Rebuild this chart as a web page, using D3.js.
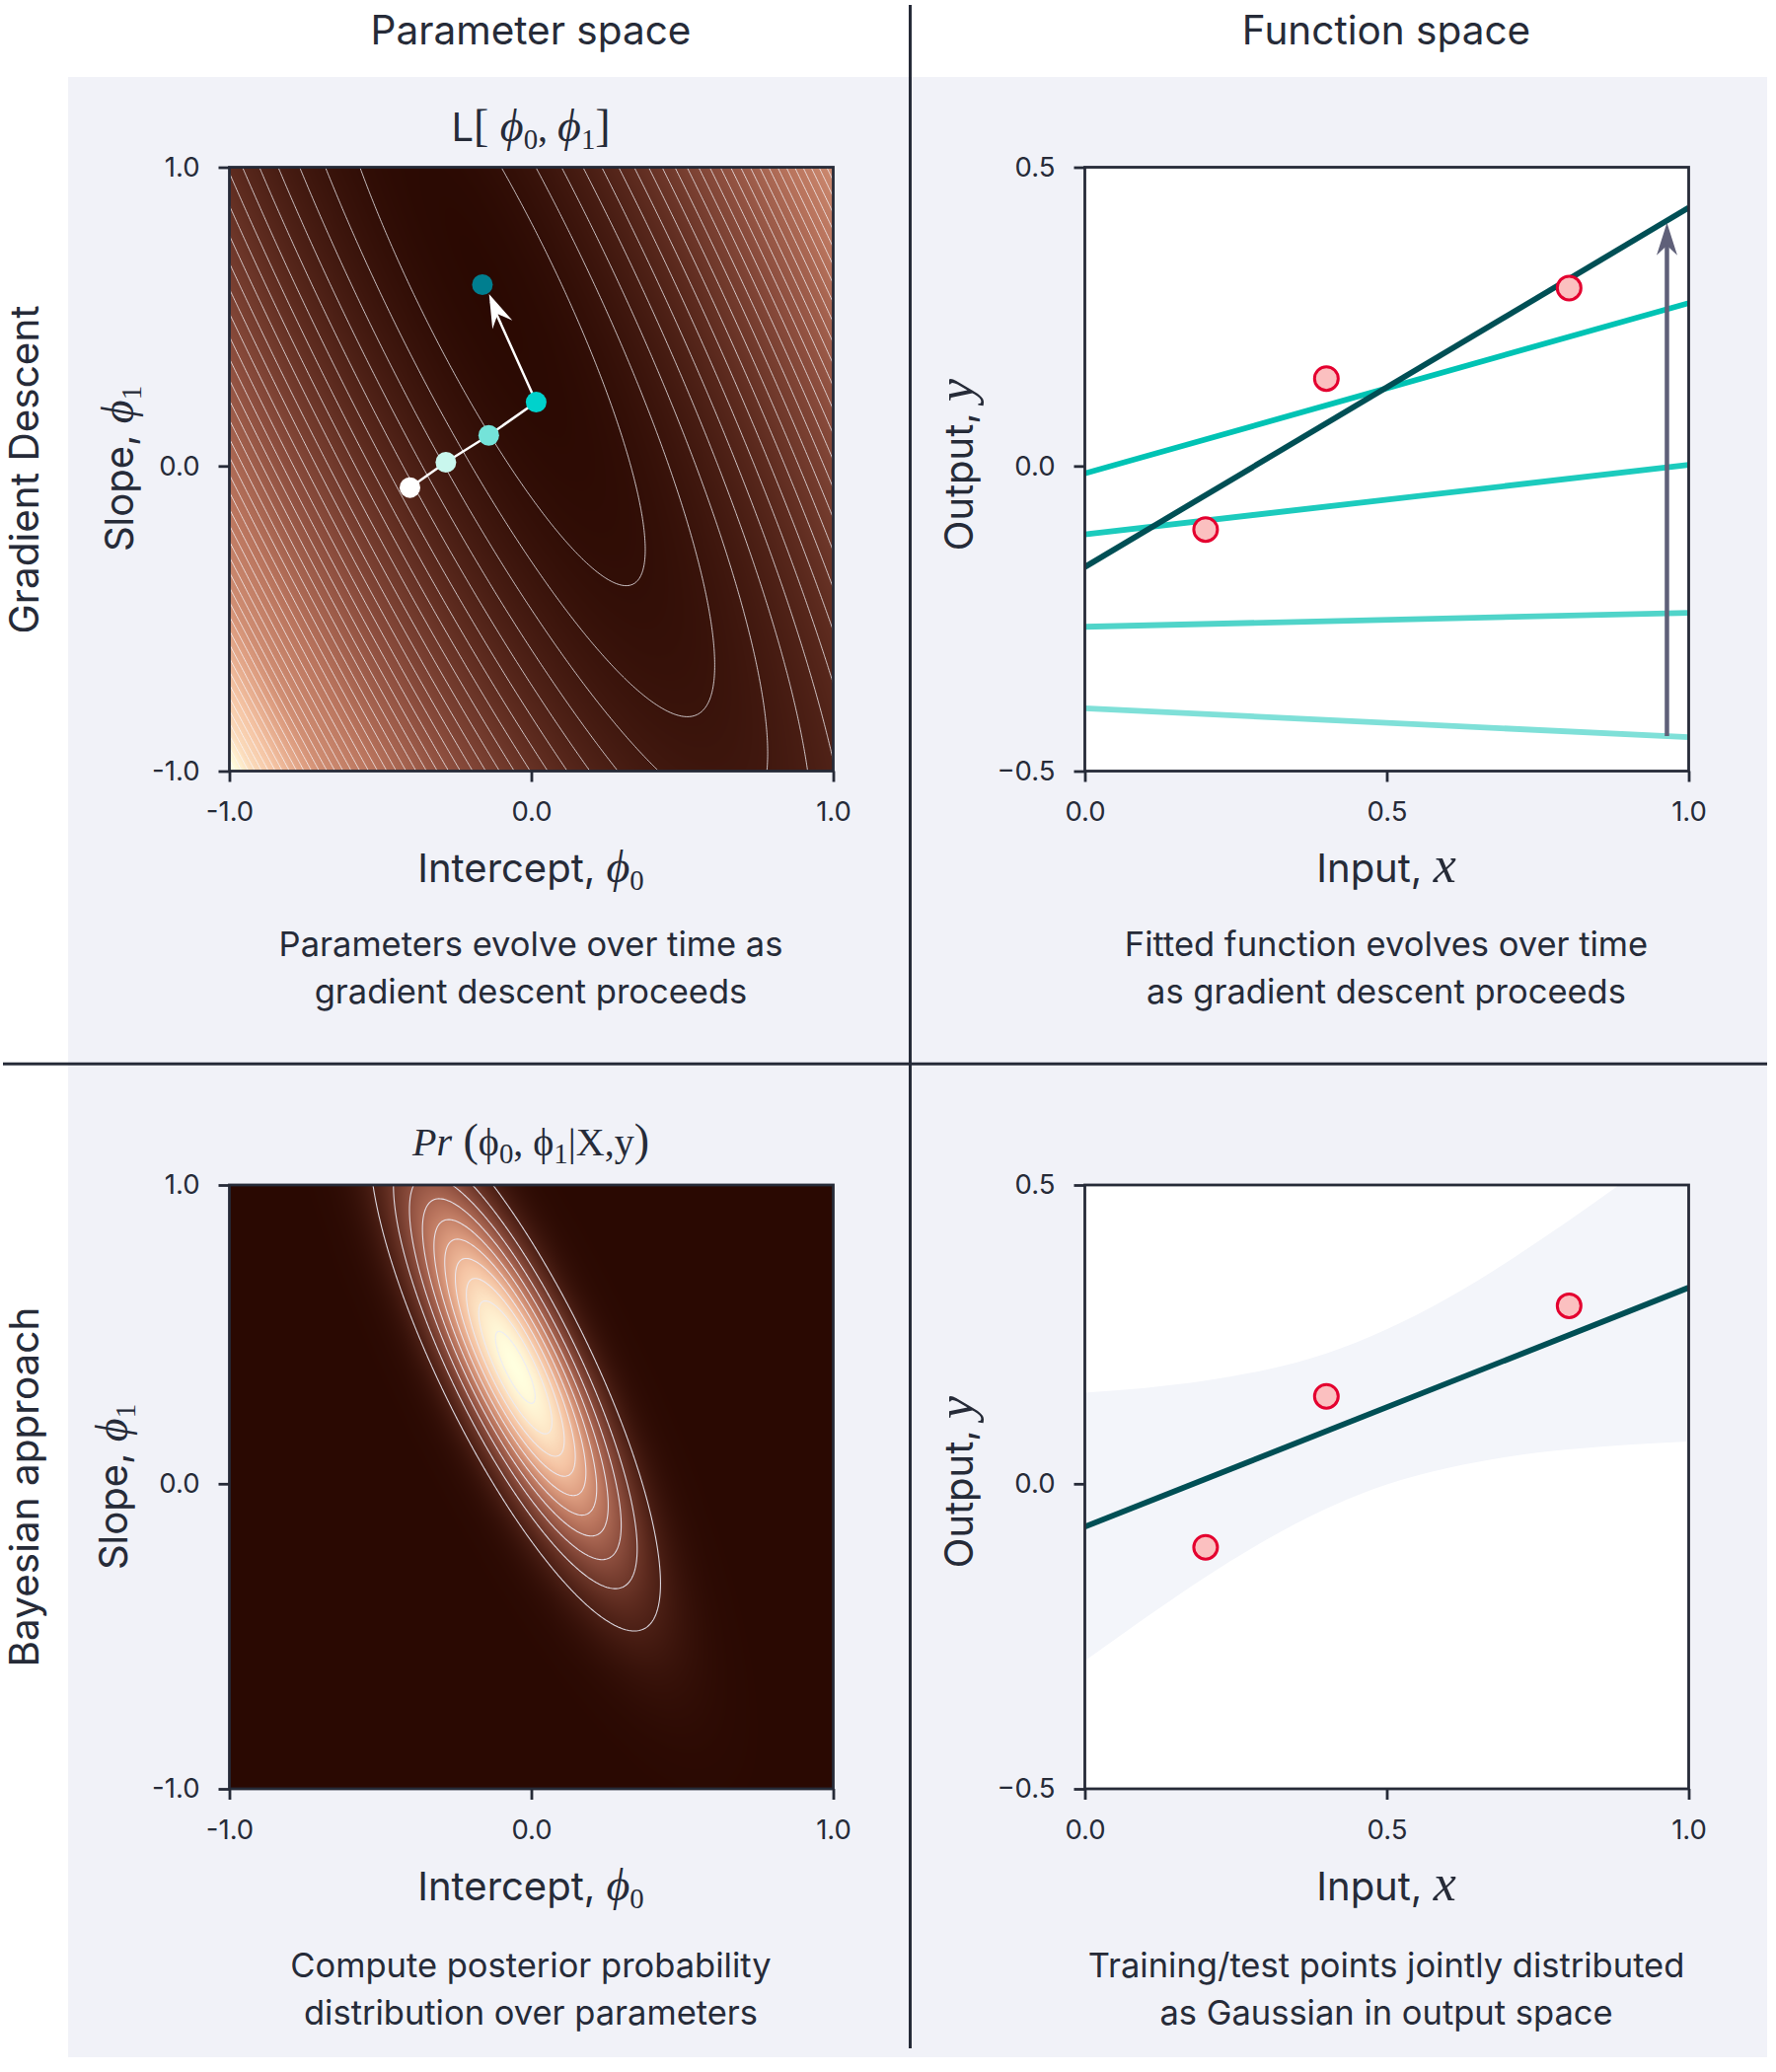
<!DOCTYPE html>
<html><head><meta charset="utf-8">
<script src="https://cdn.jsdelivr.net/npm/d3@7/dist/d3.min.js"></script>
<style>html,body{margin:0;padding:0;background:#fff}svg{display:block}</style>
</head><body><svg id="c" width="1800" height="2100"></svg>
<script>
// ---- values ----
const dataX = [0.2, 0.4, 0.802];
const dataY = [-0.1, 0.15, 0.3];
const stepPhi0 = [-0.402, -0.283, -0.141, 0.016, -0.162];
const stepPhi1 = [-0.061, 0.023, 0.112, 0.222, 0.611];
const stepColors = ['#ffffff', '#c9f7ee', '#74e3d9', '#00d2cc', '#007e8f'];
const lineStart = [-0.396, -0.261, -0.108, -0.007, -0.162];
const lineEnd = [-0.444, -0.238, 0.007, 0.275, 0.433];
const lineColors = ['#7fe0d8', '#50d4c9', '#1ccbbd', '#00c3b4', '#004f55'];
const bandX = [0, .1, .2, .3, .4, .5, .6, .7, .8, .9, 1];
const bandUpper = [.156, .164, .176, .194, .221, .261, .312, .373, .440, .511, .585];
const bandLower = [-.288, -.217, -.149, -.088, -.036, .004, .031, .050, .062, .070, .075];
const postLine = [-0.066, 0.33];
const lossLevelStep = 0.2, lossLevelCount = 40;
const lossCentreShift = 0.017;
const postLevelStep = 0.0957, postLevelCount = 10;
// posterior: mean and inverse covariance of the ellipses
const postMean = [-0.053, 0.396];
const postPrecision = [[62, 28], [28, 18.8]];
const paramTicksX = [-1, 0, 1];
const paramTicksY = [-1, 0.0105, 1];
const paramTickLabels = ['-1.0', '0.0', '1.0'];
const inputTicks = [0, 0.5, 1];
const inputTickLabels = ['0.0', '0.5', '1.0'];
const outputTicks = [-0.5, 0.0052, 0.5];
const outputTickLabels = ['\u22120.5', '0.0', '0.5'];
const cmapStops = ['#2a0902', '#5c2a1e', '#8d4e3e', '#b9745d', '#dd9d80', '#f5c4a4', '#fde4c4', '#ffffdf'];
const lossToneIn = [0, .217, .53, .69, .78, .85, .93, 1];
const lossToneOut = [0, .19, .43, .52, .63, .72, .82, 1];

const INK = '#262b38', PANEL = '#f1f2f8';
const SANS = 'Inter', SERIF = '"Liberation Serif"';
const svg = d3.select('#c');
svg.append('rect').attr('width', 1800).attr('height', 2100).attr('fill', '#fff');
svg.append('rect').attr('x', 69).attr('y', 78).attr('width', 1722).attr('height', 2007).attr('fill', PANEL);
const defs = svg.append('defs');
const cmap = d3.scaleLinear().domain(cmapStops.map((_, i) => i / (cmapStops.length - 1))).range(cmapStops).clamp(true);
const lossTone = d3.scaleLinear().domain(lossToneIn).range(lossToneOut).clamp(true);

// Rich text: segments of text, family, italic, subscript, size factor
function rich(g, x, y, segs, size, rotate) {
  const t = g.append('text').attr('text-anchor', 'middle').attr('fill', INK)
    .attr('font-size', size).attr('font-family', SANS);
  if (rotate) t.attr('transform', `translate(${x},${y}) rotate(-90)`);
  else t.attr('x', x).attr('y', y);
  let shift = 0;
  segs.forEach(s => {
    const sub = s.sub ? size * 0.2 : 0;
    const ts = t.append('tspan').text(s.t).attr('font-family', s.f || SANS)
      .attr('font-style', s.i ? 'italic' : 'normal')
      .attr('font-size', s.sub ? size * 0.72 : size * (s.k || 1));
    if (sub !== shift) { ts.attr('dy', sub - shift); shift = sub; }
  });
  return t;
}

function frame(idx, px, py, xDom, xT, xL, yDom, yT, yL) {
  const x = d3.scaleLinear().domain(xDom).range([px, px + 612]);
  const y = d3.scaleLinear().domain(yDom).range([py + 612, py]);
  const id = 'clip' + idx;
  defs.append('clipPath').attr('id', id).append('rect').attr('x', px).attr('y', py).attr('width', 612).attr('height', 612);
  const g = svg.append('g');
  const plot = g.append('g').attr('clip-path', `url(#${id})`);
  const axB = g.append('g').attr('transform', `translate(0,${py + 612})`)
    .call(d3.axisBottom(x).tickValues(xT).tickFormat((d, i) => xL[i]).tickSize(11).tickPadding(20));
  const axL = g.append('g').attr('transform', `translate(${px},0)`)
    .call(d3.axisLeft(y).tickValues(yT).tickFormat((d, i) => yL[i]).tickSize(11).tickPadding(19));
  [axB, axL].forEach(a => {
    a.select('.domain').remove();
    a.selectAll('line').attr('stroke', INK).attr('stroke-width', 2.8);
    a.selectAll('text').attr('fill', INK).attr('font-family', SANS).attr('font-size', 27.5);
  });
  g.append('rect').attr('x', px).attr('y', py).attr('width', 612).attr('height', 612)
    .attr('fill', 'none').attr('stroke', INK).attr('stroke-width', 2.8);
  return { x, y, plot };
}

function heat(f, field, toColor) {
  const c = document.createElement('canvas'); c.width = 612; c.height = 612;
  const ctx = c.getContext('2d'), im = ctx.createImageData(612, 612);
  for (let j = 0; j < 612; j++) for (let i = 0; i < 612; i++) {
    const p0 = f.x.invert(f.x.range()[0] + i + .5), p1 = f.y.invert(f.y.range()[1] + j + .5);
    const col = d3.rgb(toColor(field(p0, p1))), k = (j * 612 + i) * 4;
    im.data[k] = col.r; im.data[k + 1] = col.g; im.data[k + 2] = col.b; im.data[k + 3] = 255;
  }
  ctx.putImageData(im, 0, 0);
  f.plot.append('image').attr('x', f.x.range()[0]).attr('y', f.y.range()[1]).attr('width', 612).attr('height', 612)
    .attr('href', c.toDataURL());
}

function contourLines(f, field, thresholds, color, width) {
  const n = 400, lo = -1.03, hi = 1.03, d = (hi - lo) / n, vals = new Float64Array(n * n);
  for (let j = 0; j < n; j++) for (let i = 0; i < n; i++) vals[j * n + i] = field(lo + (i + .5) * d, lo + (j + .5) * d);
  const polys = d3.contours().size([n, n]).smooth(true).thresholds(thresholds)(vals);
  const path = d3.geoPath(d3.geoTransform({
    point(a, b) { this.stream.point(f.x(lo + a * d), f.y(lo + b * d)); }
  }));
  f.plot.selectAll(null).data(polys).join('path').attr('d', path)
    .attr('fill', 'none').attr('stroke', color).attr('stroke-width', width);
}

function stealth(g, x1, y1, x2, y2, len, half, notch, color) {
  const a = Math.atan2(y2 - y1, x2 - x1), c = Math.cos(a), s = Math.sin(a);
  const P = (u, v) => [x2 + u * c - v * s, y2 + u * s + v * c];
  g.append('path').attr('d', d3.line()([P(0, 0), P(-len, -half), P(-notch, 0), P(-len, half)]) + 'Z').attr('fill', color);
}

// The two backdrops are fields defined by the three data points / the posterior read above.
const lossField = (p0, p1) => d3.sum(dataX, (x, i) => (p0 - lossCentreShift + p1 * x - dataY[i]) ** 2);
const postField = (p0, p1) => {
  const a = p0 - postMean[0], b = p1 - postMean[1], P = postPrecision;
  return Math.exp(-0.5 * (P[0][0] * a * a + 2 * P[0][1] * a * b + P[1][1] * b * b));
};

// --- Top left
const f1 = frame(1, 232.5, 169.5, [-1, 1], paramTicksX, paramTickLabels, [-1, 1], paramTicksY, paramTickLabels);
heat(f1, lossField, v => cmap(lossTone(v / 8.02)));
contourLines(f1, lossField, d3.range(1, lossLevelCount + 1).map(k => k * lossLevelStep), 'rgba(250,250,255,0.85)', 0.9);
{
  const pts = stepPhi0.map((p, i) => [f1.x(p), f1.y(stepPhi1[i])]);
  const tip = [f1.x(-0.14), f1.y(0.58)];
  f1.plot.append('path').attr('d', d3.line()(pts.slice(0, 4).concat([[tip[0] + 2, tip[1] + 8]]))).attr('fill', 'none').attr('stroke', '#fff').attr('stroke-width', 2.5);
  stealth(f1.plot, pts[3][0], pts[3][1], tip[0], tip[1], 34, 11, 22, '#fff');
  f1.plot.selectAll(null).data(pts).join('circle').attr('cx', d => d[0]).attr('cy', d => d[1]).attr('r', 10.5)
    .attr('fill', (d, i) => stepColors[i]);
}

// --- Top right
const f2 = frame(2, 1099.5, 169.5, [0, 1], inputTicks, inputTickLabels, [-0.5, 0.5], outputTicks, outputTickLabels);
f2.plot.append('rect').attr('x', 1099.5).attr('y', 169.5).attr('width', 612).attr('height', 612).attr('fill', '#fff');
const dots = (f) => f.plot.selectAll(null).data(dataX).join('circle').attr('cx', d => f.x(d)).attr('cy', (d, i) => f.y(dataY[i]))
  .attr('r', 12).attr('fill', '#fbc0c0').attr('stroke', '#e4002f').attr('stroke-width', 3);
lineStart.forEach((v, i) => f2.plot.append('line').attr('x1', f2.x(0)).attr('y1', f2.y(v)).attr('x2', f2.x(1)).attr('y2', f2.y(lineEnd[i]))
  .attr('stroke', lineColors[i]).attr('stroke-width', 5.8));
dots(f2);
{
  const ax = f2.x(0.964), y0 = f2.y(-0.442), y1 = f2.y(0.408);
  f2.plot.append('line').attr('x1', ax).attr('x2', ax).attr('y1', y0).attr('y2', y1 + 15).attr('stroke', '#5f6079').attr('stroke-width', 4.5);
  stealth(f2.plot, ax, y0, ax, y1, 33, 10.5, 23, '#5f6079');
}

// --- Bottom left
const f3 = frame(3, 232.5, 1201, [-1, 1], paramTicksX, paramTickLabels, [-1, 1], paramTicksY, paramTickLabels);
heat(f3, postField, v => cmap(v));
contourLines(f3, postField, d3.range(1, postLevelCount + 1).map(k => k * postLevelStep), 'rgba(235,235,245,0.9)', 1.1);

// --- Bottom right
const f4 = frame(4, 1099.5, 1201, [0, 1], inputTicks, inputTickLabels, [-0.5, 0.5], outputTicks, outputTickLabels);
f4.plot.append('rect').attr('x', 1099.5).attr('y', 1201).attr('width', 612).attr('height', 612).attr('fill', '#fff');
f4.plot.append('path').datum(bandX)
  .attr('d', d3.area().x(d => f4.x(d)).y0((d, i) => f4.y(bandLower[i])).y1((d, i) => f4.y(bandUpper[i])).curve(d3.curveNatural))
  .attr('fill', '#f3f5fa');
f4.plot.append('line').attr('x1', f4.x(0)).attr('x2', f4.x(1)).attr('y1', f4.y(postLine[0])).attr('y2', f4.y(postLine[1]))
  .attr('stroke', '#004f55').attr('stroke-width', 5.8);
dots(f4);

// --- Separators
const sep = svg.append('g').attr('stroke', INK).attr('stroke-width', 3);
sep.append('line').attr('x1', 922.5).attr('x2', 922.5).attr('y1', 5).attr('y2', 2076);
sep.append('line').attr('x1', 3).attr('x2', 1791).attr('y1', 1078.3).attr('y2', 1078.3);

// --- Text
const T = svg.append('g');
const phi = (s) => [{ t: '\u03D5', f: SERIF, i: true, k: 1.15 }, { t: s, f: SERIF, sub: true }];
const ITAL = (c) => ({ t: c, f: SERIF, i: true, k: 1.3 });
rich(T, 538, 45, [{ t: 'Parameter space' }], 40.5);
rich(T, 1405, 45, [{ t: 'Function space' }], 40.5);
rich(T, 39, 476, [{ t: 'Gradient Descent' }], 40.5, true);
rich(T, 39, 1507, [{ t: 'Bayesian approach' }], 40.5, true);
rich(T, 538, 143, [{ t: 'L' }, { t: '[ ', f: SERIF, k: 1.15 }, ...phi('0'), { t: ', ', f: SERIF }, ...phi('1'), { t: ']', f: SERIF, k: 1.15 }], 40);
rich(T, 538, 1171, [{ t: 'Pr', f: SERIF, i: true }, { t: ' (', f: SERIF, k: 1.15 }, { t: '\u03D5', f: SERIF }, { t: '0', f: SERIF, sub: true }, { t: ', ', f: SERIF },
  { t: '\u03D5', f: SERIF }, { t: '1', f: SERIF, sub: true }, { t: '|X,y', f: SERIF }, { t: ')', f: SERIF, k: 1.15 }], 40);
[894, 1926].forEach(a => {
  rich(T, 538, a, [{ t: 'Intercept, ' }, ...phi('0')], 40);
  rich(T, 1405, a, [{ t: 'Input, ' }, ITAL('x')], 40);
});
rich(T, 135, 475, [{ t: 'Slope, ' }, ...phi('1')], 40, true);
rich(T, 129, 1507, [{ t: 'Slope, ' }, ...phi('1')], 40, true);
rich(T, 986, 471, [{ t: 'Output, ' }, ITAL('y')], 40, true);
rich(T, 986, 1502, [{ t: 'Output, ' }, ITAL('y')], 40, true);
const caps = [[538, 969, 'Parameters evolve over time as'], [538, 1017, 'gradient descent proceeds'],
  [1405, 969, 'Fitted function evolves over time'], [1405, 1017, 'as gradient descent proceeds'],
  [538, 2004, 'Compute posterior probability'], [538, 2052, 'distribution over parameters'],
  [1405, 2004, 'Training/test points jointly distributed'], [1405, 2052, 'as Gaussian in output space']];
caps.forEach(c => rich(T, c[0], c[1], [{ t: c[2] }], 34.5));
</script></body></html>
